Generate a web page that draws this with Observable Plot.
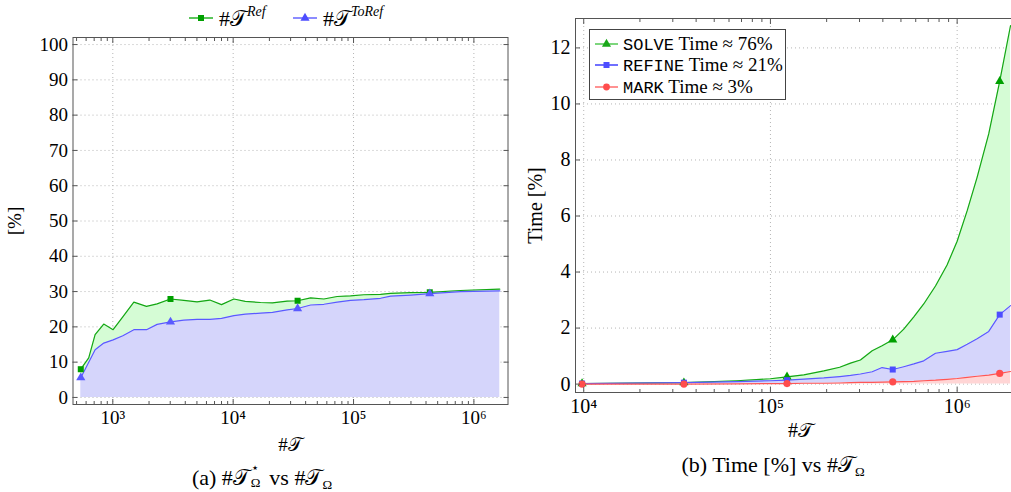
<!DOCTYPE html>
<html><head><meta charset="utf-8">
<script src="https://cdn.jsdelivr.net/npm/d3@7"></script>
<script src="https://cdn.jsdelivr.net/npm/@observablehq/plot@0.6"></script>
<style>
html,body{margin:0;padding:0;width:1011px;height:492px;overflow:hidden;background:#fff;font-family:"Liberation Serif",serif;color:#000}
#left,#right{position:absolute;top:0;width:520px}
#left svg,#right svg{max-width:none !important;display:block}
#left{left:0}
#right{left:520px}
.cal{font-family:"DejaVu Serif","Liberation Serif",serif;font-style:normal}
#legTop{position:absolute;top:4px;left:0;width:520px;height:28px;font-size:22px}
#legTop .it{position:absolute;top:0;display:flex;align-items:center;white-space:nowrap;height:28px}
#legTop sup{font-size:14px;font-style:italic;vertical-align:10px}
#legR{position:absolute;left:589px;top:29px;width:197px;height:71px;border:1px solid #444;background:#fff;font-size:19px;box-sizing:border-box;padding-top:3px}
#legR .row{display:flex;align-items:center;height:21.5px;padding-left:4px;white-space:nowrap}
#legR .tt{font-family:"Liberation Mono",monospace;font-size:17px}
.cap{position:absolute;font-size:22px;line-height:26px;white-space:nowrap;transform:translateX(-50%)}
.ss{display:inline-block;position:relative;width:14px;height:10px;font-size:13px;line-height:13px}
.ss .a{position:absolute;left:1px;top:-14px}
.ss .b{position:absolute;left:1px;top:1px}
.sb{font-size:13px;vertical-align:-4px}
</style></head><body>
<div id="left"></div>
<div id="right"></div>
<div id="legTop"></div>
<div id="legR"></div>
<div class="cap" style="left:262px;top:465px">(a) #<span class="cal">𝒯</span><span class="ss"><span class="a">⋆</span><span class="b">Ω</span></span> vs #<span class="cal">𝒯</span><span class="sb">Ω</span></div>
<div class="cap" style="left:773px;top:452px">(b) Time [%] vs #<span class="cal">𝒯</span><span class="sb">Ω</span></div>
<script>
// ---------- Data: left chart (a) ----------
const leftN = [542, 631, 713, 841, 1006, 1211, 1496, 1905, 2334, 3015, 3890, 5010, 6400, 8000, 10140, 12600, 16900, 21200, 28100, 34300, 44000, 56700, 73100, 94400, 122000, 167500, 203000, 298000, 430000, 774000, 1640000];
const leftRef = [8.0, 11.2, 17.8, 20.8, 19.2, 22.8, 27.0, 25.8, 26.5, 27.9, 27.5, 27.1, 27.6, 26.3, 27.9, 27.2, 26.9, 26.8, 27.3, 27.4, 28.2, 27.9, 28.6, 28.8, 29.1, 29.2, 29.5, 29.7, 29.8, 30.3, 30.7];
const leftToRef = [5.6, 10.0, 13.5, 15.4, 16.3, 17.5, 19.2, 19.2, 20.7, 21.4, 21.9, 22.1, 22.1, 22.4, 23.2, 23.6, 23.9, 24.1, 24.8, 25.2, 26.2, 26.4, 27.0, 27.5, 27.7, 28.1, 28.7, 29.0, 29.4, 30.0, 30.2];
const leftMarkIdx = [0, 9, 19, 28];
const leftXTicks = [1e3, 1e4, 1e5, 1e6];
const leftYTicks = [0, 10, 20, 30, 40, 50, 60, 70, 80, 90, 100];
const leftLegend = [
  {sup: "Ref", color: "#33b833", mcolor: "#00a000", symbol: "square", left: 188},
  {sup: "ToRef", color: "#6f6fff", mcolor: "#4d4dff", symbol: "triangle", left: 292}
];

// ---------- Data: right chart (b) ----------
const rightN = [9800, 34400, 66200, 100000, 122700, 151000, 193200, 235000, 268500, 303400, 350800, 396300, 451900, 517600, 586100, 662200, 765600, 883100, 1000000, 1132000, 1279000, 1476000, 1690000, 1932000];
const solveT = [0.02, 0.05, 0.12, 0.19, 0.26, 0.33, 0.47, 0.60, 0.75, 0.86, 1.19, 1.37, 1.58, 1.96, 2.40, 2.86, 3.50, 4.25, 5.10, 6.19, 7.38, 8.93, 10.81, 12.80];
const refineT = [0.02, 0.05, 0.09, 0.12, 0.14, 0.18, 0.22, 0.27, 0.31, 0.36, 0.44, 0.59, 0.52, 0.62, 0.72, 0.83, 1.10, 1.17, 1.23, 1.42, 1.62, 1.88, 2.48, 2.80];
const markT = [0.0, 0.0, 0.01, 0.02, 0.02, 0.03, 0.03, 0.04, 0.05, 0.06, 0.06, 0.07, 0.08, 0.09, 0.10, 0.12, 0.14, 0.17, 0.20, 0.24, 0.28, 0.32, 0.38, 0.45];
const rightMarkIdx = [0, 1, 4, 12, 22];
const rightXTicks = [1e4, 1e5, 1e6];
const rightYTicks = [0, 2, 4, 6, 8, 10, 12];
const rightLegend = [
  {code: "SOLVE", label: " Time ≈ 76%", color: "#1aa81a", light: "#5ccc5c", symbol: "triangle"},
  {code: "REFINE", label: " Time ≈ 21%", color: "#4d4dff", light: "#4d4dff", symbol: "square"},
  {code: "MARK", label: " Time ≈ 3%", color: "#ff4d4d", light: "#ff7777", symbol: "circle"}
];

const GREEN = "#14a614", BLUE = "#5a5aff", RED = "#ff5555";
const FILL_G = "#d5fcd5", FILL_B = "#d5d5fb", FILL_R = "#ffd5d5";
const FRAME = "#555";
const SERIF = "Liberation Serif";
const GRID = {stroke: "#b5b5b5", strokeOpacity: 1, strokeDasharray: "1,3", strokeWidth: 1};

const supD = {"0":"⁰","1":"¹","2":"²","3":"³","4":"⁴","5":"⁵","6":"⁶","7":"⁷","8":"⁸","9":"⁹"};
const fmtPow = d => "10" + String(Math.round(Math.log10(d))).split("").map(c => supD[c]).join("");
const minor = (lo, hi, dom) => d3.range(lo, hi).flatMap(e => d3.range(2, 10).map(k => k * 10 ** e)).filter(v => v > dom[0] && v < dom[1]);
const blank = () => "";

function tickMarks(xMaj, xMin, yMaj) {
  return [
    Plot.axisX(xMaj, {anchor: "bottom", tickSize: -5, tickFormat: blank, label: null, stroke: FRAME}),
    Plot.axisX(xMaj, {anchor: "top", tickSize: -5, tickFormat: blank, label: null, stroke: FRAME}),
    Plot.axisX(xMin, {anchor: "bottom", tickSize: -3, tickFormat: blank, label: null, stroke: FRAME}),
    Plot.axisX(xMin, {anchor: "top", tickSize: -3, tickFormat: blank, label: null, stroke: FRAME}),
    Plot.axisY(yMaj, {anchor: "left", tickSize: -5, tickFormat: blank, label: null, stroke: FRAME}),
    Plot.axisY(yMaj, {anchor: "right", tickSize: -5, tickFormat: blank, label: null, stroke: FRAME})
  ];
}

// ---------- Left chart ----------
const leftData = leftN.map((n, i) => ({n, ref: leftRef[i], toRef: leftToRef[i]}));
const leftMarks = leftMarkIdx.map(i => leftData[i]);
const leftDom = [467, 1.92e6];
const left = Plot.plot({
  width: 520, height: 460,
  marginLeft: 72.5, marginRight: 12.5, marginTop: 37, marginBottom: 56,
  x: {type: "log", domain: leftDom},
  y: {domain: [-2, 102]},
  style: {fontFamily: SERIF, fontSize: "19px", color: "#000", background: "transparent", overflow: "visible"},
  marks: [
    Plot.gridX(leftXTicks, GRID),
    Plot.gridY(leftYTicks, GRID),
    Plot.areaY(leftData, {x: "n", y1: 0, y2: "toRef", fill: FILL_B}),
    Plot.areaY(leftData, {x: "n", y1: "toRef", y2: "ref", fill: FILL_G}),
    Plot.line(leftData, {x: "n", y: "ref", stroke: GREEN, strokeWidth: 1.2}),
    Plot.line(leftData, {x: "n", y: "toRef", stroke: BLUE, strokeWidth: 1.2}),
    Plot.dot(leftMarks, {x: "n", y: "ref", symbol: "square", fill: "#00a000", r: 3.4}),
    Plot.dot(leftMarks, {x: "n", y: "toRef", symbol: "triangle", fill: BLUE, r: 3.4}),
    Plot.frame({stroke: FRAME}),
    ...tickMarks(leftXTicks, minor(2, 7, leftDom), leftYTicks),
    Plot.axisX(leftXTicks, {anchor: "bottom", tickSize: 0, tickPadding: 6, tickFormat: fmtPow, fontSize: 19, fontFamily: SERIF,
      label: "#𝒯", labelAnchor: "center", labelArrow: "none", labelOffset: 46}),
    Plot.axisY(leftYTicks, {anchor: "left", tickSize: 0, tickPadding: 5, fontSize: 19, fontFamily: SERIF,
      label: "[%]", labelAnchor: "center", labelArrow: "none", labelOffset: 66})
  ]
});
document.getElementById("left").append(left);

// ---------- Right chart ----------
const rightData = rightN.map((n, i) => ({n, solve: solveT[i], refine: refineT[i], mark: markT[i]}));
const rightMarks = rightMarkIdx.map(i => rightData[i]);
const rightDom = [9036, 2.323e6];
const right = Plot.plot({
  width: 520, height: 445,
  marginLeft: 55, marginRight: 15, marginTop: 18, marginBottom: 53,
  x: {type: "log", domain: rightDom},
  y: {domain: [-0.3, 13.05]},
  style: {fontFamily: SERIF, fontSize: "20px", color: "#000", background: "transparent", overflow: "visible"},
  marks: [
    Plot.gridX(rightXTicks, GRID),
    Plot.gridY(rightYTicks, GRID),
    Plot.areaY(rightData, {x: "n", y1: 0, y2: "mark", fill: FILL_R}),
    Plot.areaY(rightData, {x: "n", y1: "mark", y2: "refine", fill: FILL_B}),
    Plot.areaY(rightData, {x: "n", y1: "refine", y2: "solve", fill: FILL_G}),
    Plot.line(rightData, {x: "n", y: "solve", stroke: GREEN, strokeWidth: 1.2}),
    Plot.line(rightData, {x: "n", y: "refine", stroke: BLUE, strokeWidth: 1.2}),
    Plot.line(rightData, {x: "n", y: "mark", stroke: RED, strokeWidth: 1.2}),
    Plot.dot(rightMarks, {x: "n", y: "solve", symbol: "triangle", fill: "#00a000", r: 3.4}),
    Plot.dot(rightMarks, {x: "n", y: "refine", symbol: "square", fill: "#4d4dff", r: 3.4}),
    Plot.dot(rightMarks, {x: "n", y: "mark", symbol: "circle", fill: "#ff4d4d", r: 3.6}),
    Plot.frame({stroke: FRAME}),
    ...tickMarks(rightXTicks, minor(3, 7, rightDom), rightYTicks),
    Plot.axisX(rightXTicks, {anchor: "bottom", tickSize: 0, tickPadding: 6, tickFormat: fmtPow, fontSize: 20, fontFamily: SERIF,
      label: "#𝒯", labelAnchor: "center", labelArrow: "none", labelOffset: 44}),
    Plot.axisY(rightYTicks, {anchor: "left", tickSize: 0, tickPadding: 5, fontSize: 20, fontFamily: SERIF,
      label: "Time [%]", labelAnchor: "center", labelArrow: "none", labelOffset: 48})
  ]
});
document.getElementById("right").append(right);

// ---------- Legends ----------
function swatch(color, mcolor, symbol, w) {
  const s = d3.create("svg").attr("width", w).attr("height", 12).style("display", "block");
  s.append("line").attr("x1", 1).attr("x2", w - 1).attr("y1", 6).attr("y2", 6).attr("stroke", color).attr("stroke-width", 1.6);
  const sym = {square: d3.symbolSquare, triangle: d3.symbolTriangle, circle: d3.symbolCircle}[symbol];
  s.append("path").attr("d", d3.symbol(sym, 36)()).attr("transform", `translate(${w / 2},6)`).attr("fill", mcolor);
  return s.node();
}
const legTop = document.getElementById("legTop");
leftLegend.forEach(it => {
  const d = document.createElement("div");
  d.className = "it";
  d.style.left = it.left + "px";
  const sw = swatch(it.color, it.mcolor, it.symbol, 26);
  sw.style.marginRight = "5px";
  d.append(sw);
  const t = document.createElement("span");
  t.innerHTML = `#<span class="cal">𝒯</span><sup>${it.sup}</sup>`;
  d.append(t);
  legTop.append(d);
});
const legR = document.getElementById("legR");
rightLegend.forEach(it => {
  const r = document.createElement("div");
  r.className = "row";
  const sw = swatch(it.light, it.color, it.symbol, 25);
  sw.style.marginRight = "4px";
  r.append(sw);
  const t = document.createElement("span");
  t.innerHTML = `<span class="tt">${it.code}</span>${it.label}`;
  r.append(t);
  legR.append(r);
});
</script>
</body></html>
